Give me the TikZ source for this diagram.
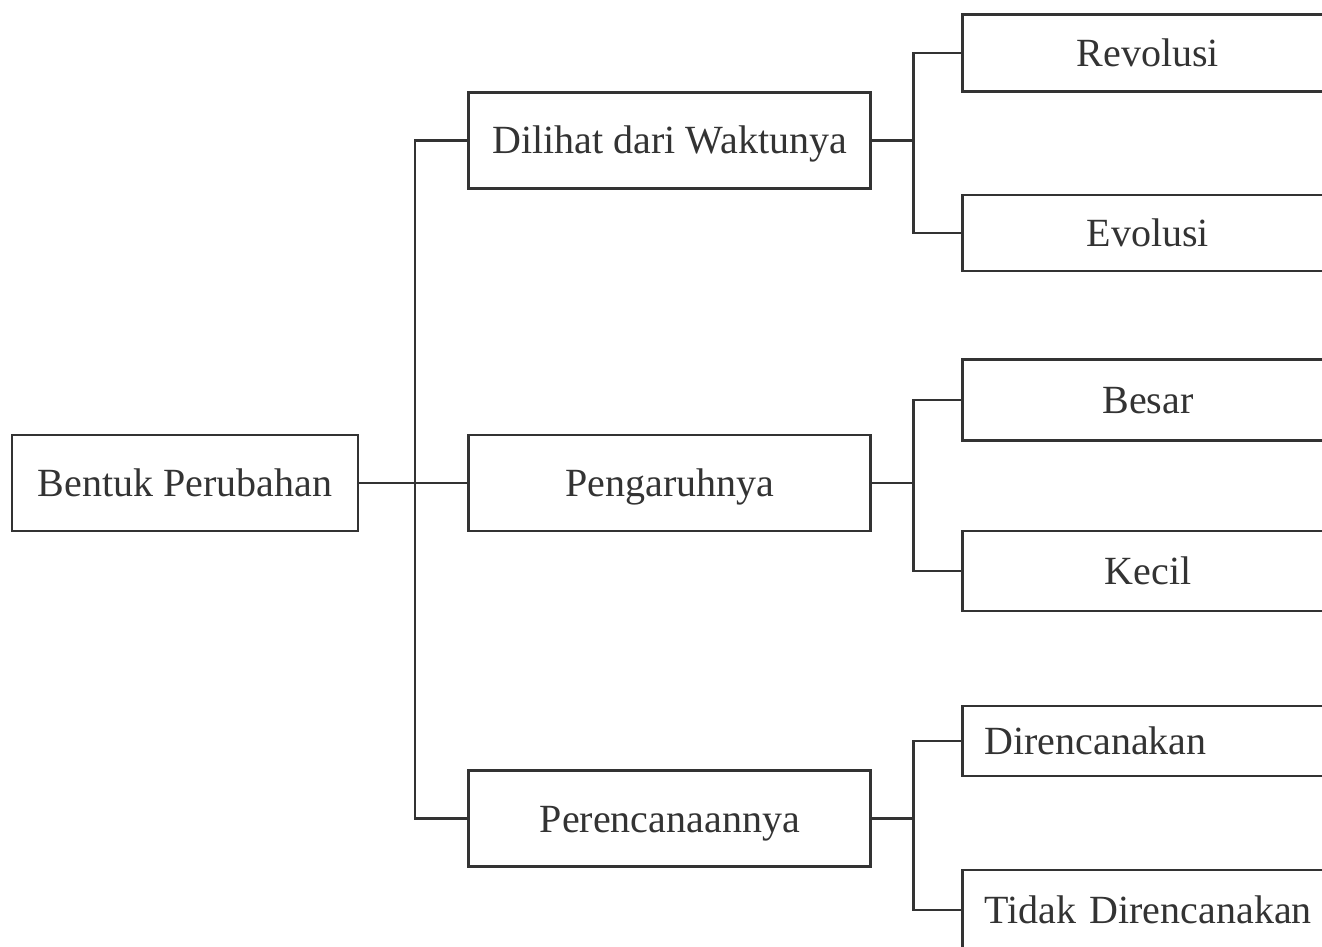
\documentclass[tikz,border=0pt]{standalone}
\usepackage{fontspec}
\setmainfont{Liberation Serif}
\usetikzlibrary{positioning}
\definecolor{ink}{HTML}{333333}
\tikzset{
    box/.style={draw=ink,line width=2.8pt,text=ink,font=\fontsize{40pt}{48pt}\selectfont,text height=27pt,text depth=0pt},
    head/.style={box,minimum width=346pt,minimum height=96pt},
    mid/.style={box,minimum width=402pt,minimum height=96pt},
    leaf/.style={box,anchor=west,text width=327pt,inner xsep=22pt,align=center},
    leafleft/.style={leaf,text width=350pt,align=left},
    link/.style={-,draw=ink,line width=2.8pt}
}

\begin{document}
\begin{tikzpicture}[x=1pt,y=-1pt]

                \path[use as bounding box,clip] (0,0) rectangle (1322,946);
                \fill[white] (0,0) rectangle (1322,946);

                \node[head] (bentuk) at (185,483)                                       {Bentuk Perubahan};

                \node[mid]  (pengaruh) [right=108pt of bentuk]                           {Pengaruhnya};
                \node[mid]  (waktu)    [above=244pt of pengaruh]                         {Dilihat dari Waktunya};
                \node[mid]  (rencana)  [below=237pt of pengaruh]                         {Perencanaannya};

                \node[leaf]     (revolusi) [minimum height=77pt] at (961,53)              {Revolusi};
                \node[leaf]     (evolusi)  [minimum height=76pt] at (961,233)             {Evolusi};
                \node[leaf]     (besar)    [minimum height=81pt] at (961,400)             {Besar};
                \node[leaf]     (kecil)    [minimum height=80pt] at (961,571)             {Kecil};
                \node[leafleft] (direnc)   [minimum height=70pt] at (961,741)             {Direncanakan};
                \node[leafleft] (tidak)    [minimum height=80pt] at (961,910)             {Tidak Direncanakan};

                \coordinate (trunk) at (415,483);
                \node[coordinate] (fork 1) [right=41pt of waktu.east]    {};
                \node[coordinate] (fork 2) [right=41pt of pengaruh.east] {};
                \node[coordinate] (fork 3) [right=41pt of rencana.east]  {};

                \draw[link] (bentuk.east) -- (pengaruh.west);
                \draw[link] (waktu.west) -| (trunk) |- (rencana.west);

                \draw[link] (waktu.east) -- (fork 1);
                \draw[link] (revolusi.west) -| (fork 1) |- (evolusi.west);
                \draw[link] (pengaruh.east) -- (fork 2);
                \draw[link] (besar.west) -| (fork 2) |- (kecil.west);
                \draw[link] (rencana.east) -- (fork 3);
                \draw[link] (direnc.west) -| (fork 3) |- (tidak.west);

            \end{tikzpicture}
\end{document}
